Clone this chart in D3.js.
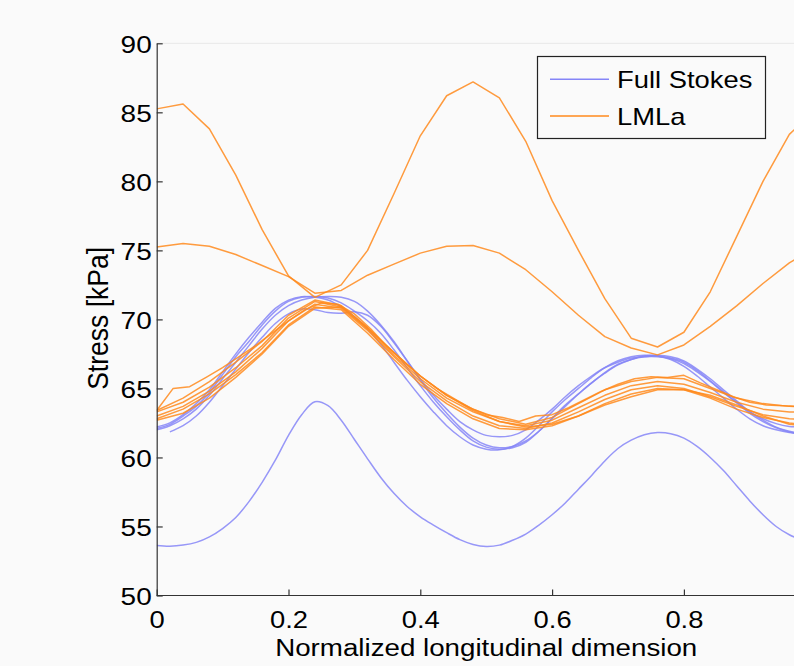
<!DOCTYPE html>
<html>
	<head>
		<title>Stress along the flowline</title>
		<style type="text/css">
			body{ margin:0; background:#fafafa; }
			#board{ width:794px; height:666px; overflow:hidden; }
			text{ font-family:"Liberation Sans", Arial, sans-serif; fill:#000; }
		</style>
	</head>
	<body>
		<div id="board"></div>

	<script type="text/javascript" src="https://cdn.jsdelivr.net/npm/d3@7"></script>
	<script>
		// sampling grids
		var xs02 = [0,0.02,0.04,0.06,0.08,0.1,0.12,0.14,0.16,0.18,0.2,0.22,0.24,0.26,0.28,0.3,0.32,0.34,0.36,0.38,
			0.4,0.42,0.44,0.46,0.48,0.5,0.52,0.54,0.56,0.58,0.6,0.62,0.64,0.66,0.68,0.7,0.72,0.74,0.76,0.78,
			0.8,0.82,0.84,0.86,0.88,0.9,0.92,0.94,0.96,0.98,1];
		var xs04 = [0,0.04,0.08,0.12,0.16,0.2,0.24,0.28,0.32,0.36,0.4,0.44,0.48,0.52,0.56,0.6,0.64,0.68,0.72,0.76,
			0.8,0.84,0.88,0.92,0.96,1];
		var xs025 = [0,0.025,0.05,0.075,0.1,0.125,0.15,0.175,0.2,0.225,0.25,0.275,0.3,0.325,0.35,0.375,0.4,0.425,0.45,0.475,
			0.5,0.525,0.55,0.575,0.6,0.625,0.65,0.675,0.7,0.725,0.75,0.775,0.8,0.825,0.85,0.875,0.9,0.925,0.95,0.975,1];

		// Full Stokes runs (on xs02)
		var fsA = [62.1,62.4,63.0,63.7,64.7,66.0,67.3,68.4,69.6,70.6,71.3,71.6,71.65,71.55,71.2,70.6,69.9,69.0,67.8,66.5,
			65.2,64.0,62.95,62.0,61.2,60.75,60.6,60.7,61.1,61.9,62.85,63.8,64.6,65.4,66.15,66.75,67.1,67.3,67.35,67.2,
			66.9,66.3,65.55,64.75,63.95,63.2,62.6,62.15,61.85,61.7,61.7];
		var fsB = [62.2,62.5,63.1,63.9,64.9,66.2,67.5,68.7,69.8,70.8,71.4,71.65,71.6,71.4,70.9,70.2,69.3,68.2,66.9,65.6,
			64.4,63.3,62.3,61.5,60.9,60.6,60.55,60.8,61.4,62.3,63.3,64.2,65.0,65.8,66.5,67.0,67.3,67.4,67.35,67.1,
			66.6,65.9,65.1,64.3,63.5,62.8,62.3,62.0,61.8,61.7,61.7];
		var fsC = [62.0,62.3,62.8,63.5,64.5,65.7,66.9,68.1,69.3,70.3,71.0,71.4,71.6,71.65,71.6,71.3,70.6,69.6,68.4,67.0,
			65.6,64.3,63.2,62.2,61.4,60.9,60.7,60.8,61.2,61.9,62.8,63.7,64.6,65.4,66.1,66.7,67.1,67.35,67.4,67.3,
			67.0,66.4,65.7,64.9,64.1,63.3,62.7,62.2,61.9,61.7,61.6];
		var fsD = [null,61.85,62.3,63.0,64.0,65.2,66.4,67.6,68.7,69.7,70.4,70.75,70.7,70.5,70.45,70.55,70.3,69.5,68.3,67.0,
			65.7,64.5,63.5,62.6,62.0,61.6,61.5,61.6,62.0,62.7,63.5,64.4,65.2,65.9,66.5,66.9,67.2,67.3,67.3,67.15,
			66.8,66.2,65.5,64.7,64.0,63.3,62.8,62.45,62.25,62.2,62.2];
		var fsE = [53.62,53.57,53.65,53.85,54.25,54.85,55.65,56.8,58.2,59.8,61.6,63.1,64.03,63.75,62.7,61.3,59.9,58.55,57.4,56.45,
			55.7,55.1,54.55,54.05,53.7,53.55,53.65,54.0,54.45,55.1,55.85,56.7,57.7,58.7,59.75,60.65,61.25,61.65,61.8,61.72,
			61.4,60.8,60.0,59.05,57.95,56.85,55.85,55.0,54.4,54.0,53.7];

		// LMLa runs (on xs04, one on xs025)
		var lmA = [85.25,85.6,83.8,80.45,76.5,73.15,71.6,72.5,75.0,79.1,83.3,86.2,87.2,86.05,82.9,78.6,75.0,71.5,68.64,68.0,
			69.07,72.0,76.0,80.0,83.4,85.2];
		var lmB = [75.25,75.5,75.3,74.7,73.9,73.1,71.9,72.1,73.2,74.0,74.8,75.3,75.35,74.8,73.6,72.0,70.3,68.75,67.93,67.43,
			68.15,69.5,70.98,72.6,74.1,75.2];
		var lmC = [63.4,64.3,65.5,66.9,68.4,70.3,71.4,71.0,69.4,67.6,65.9,64.5,63.5,62.8,62.4,62.9,63.9,64.9,65.5,65.8,
			65.7,65.0,64.3,63.9,63.7,63.6];
		var lmD = [63.3,64.0,65.1,66.5,68.1,70.1,71.3,70.9,69.3,67.4,65.7,64.3,63.3,62.6,62.3,62.7,63.6,64.5,65.2,65.5,
			65.3,64.7,64.0,63.5,63.3,63.3];
		var lmE = [63.0,63.7,64.8,66.2,67.9,69.9,71.1,70.8,69.2,67.3,65.5,64.1,63.0,62.3,62.1,62.5,63.3,64.2,64.9,65.2,
			65.0,64.4,63.7,63.1,62.8,62.7];
		var lmF = [62.8,63.5,64.6,66.0,67.6,69.6,70.9,70.7,69.0,67.1,65.3,63.9,62.8,62.1,62.0,62.3,63.0,63.9,64.6,65.0,
			64.9,64.3,63.5,62.9,62.5,62.3];
		var lmG = [62.7,63.2,64.3,65.8,67.5,69.5,70.8,70.9,69.4,67.6,65.9,64.5,63.4,62.6,62.2,62.4,63.0,63.8,64.4,64.9,
			64.9,64.5,63.8,63.0,62.4,62.2];
		var lmH = [63.4,65.0,65.13,65.8,66.5,67.3,68.1,69.0,69.9,70.7,71.2,71.1,70.4,69.3,68.0,66.9,65.9,65.0,64.3,63.6,
			63.1,62.9,62.6,63.0,63.1,63.6,64.2,64.8,65.3,65.7,65.85,65.8,65.95,65.4,64.9,64.4,64.0,63.8,63.75,63.7,63.6];

		var xTicks = [0,0.2,0.4,0.6,0.8];
		var yTicks = [50,55,60,65,70,75,80,85,90];
		var legendNames = ['Full Stokes','LMLa'];

		var blue = '#8585f7', orange = '#ff8a1c';
		var sx = 1.19; // glyphs in the original are a bit wide

		var mLeft = 156.7, mTop = 43.3, pw = 659, ph = 552.2;

		var svg = d3.select('#board').append('svg')
				.attr('width',794).attr('height',666);
		svg.append('rect').attr('width',794).attr('height',666).attr('fill','#fafafa');

		var x = d3.scaleLinear().domain([0,1]).range([mLeft, mLeft+pw]);
		var y = d3.scaleLinear().domain([50,90]).range([mTop+ph, mTop]);

		svg.append('clipPath').attr('id','clip')
			.append('rect').attr('x',mLeft).attr('y',mTop).attr('width',pw).attr('height',ph);

		var g = svg.append('g').attr('clip-path','url(#clip)');

		function series( xs, ys ){
			return xs.map(function(d,i){ return [d, ys[i]]; });
		}

		var smooth = d3.line()
			.defined(function(d){ return d[1] != null; })
			.x(function(d){ return x(d[0]); })
			.y(function(d){ return y(d[1]); })
			.curve(d3.curveCatmullRom);
		var straight = d3.line()
			.x(function(d){ return x(d[0]); })
			.y(function(d){ return y(d[1]); });

		var fsRuns = [fsA, fsB, fsC, fsD, fsE];
		g.selectAll('.fs')
			.data( fsRuns )
			.enter().append('path')
			.attr('class','fs')
			.attr('d',function(d){ return smooth( series(xs02, d) ); })
			.attr('fill','none')
			.attr('stroke',blue)
			.attr('stroke-opacity',0.85)
			.attr('stroke-width',1.5);

		var lmRuns = [ series(xs04,lmA), series(xs04,lmB), series(xs04,lmC), series(xs04,lmD),
			series(xs04,lmE), series(xs04,lmF), series(xs04,lmG), series(xs025,lmH) ];
		g.selectAll('.lm')
			.data( lmRuns )
			.enter().append('path')
			.attr('class','lm')
			.attr('d',function(d){ return straight(d); })
			.attr('fill','none')
			.attr('stroke',orange)
			.attr('stroke-opacity',0.85)
			.attr('stroke-width',1.5)
			.attr('stroke-linejoin','round');

		// faint top edge of the axes
		svg.append('line')
			.attr('x1',mLeft).attr('x2',794).attr('y1',mTop).attr('y2',mTop)
			.attr('stroke','#e8e8e8').attr('stroke-width',1);

		// axes, ticks pointing inward
		var yAxis = svg.append('g')
			.attr('transform','translate('+mLeft+',0)')
			.call( d3.axisLeft(y).tickValues(yTicks).tickSizeInner(-6).tickSizeOuter(0).tickPadding(0) );
		var xAxis = svg.append('g')
			.attr('transform','translate(0,'+(mTop+ph)+')')
			.call( d3.axisBottom(x).tickValues(xTicks).tickSizeInner(-6).tickSizeOuter(0)
				.tickFormat(d3.format('')) );
		xAxis.select('.domain').attr('d','M'+mLeft+',0H'+(mLeft+pw));

		[yAxis, xAxis].forEach(function(a){
			a.select('.domain').attr('stroke','#333').attr('stroke-width',1.2);
			a.selectAll('.tick line').attr('stroke','#333').attr('stroke-width',1.2);
		});

		yAxis.selectAll('.tick text')
			.attr('x',0).attr('dy',null).attr('y',0)
			.attr('text-anchor','end')
			.attr('dominant-baseline','central')
			.style('font-size','23.5px')
			.attr('transform','translate(-5,1) scale('+sx+',1)');
		xAxis.selectAll('.tick text')
			.attr('y',0).attr('dy',null)
			.attr('text-anchor','middle')
			.style('font-size','23px')
			.attr('transform','translate(0,32) scale('+sx+',1)');

		svg.append('text')
			.attr('text-anchor','middle')
			.style('font-size','23.3px')
			.attr('transform','translate('+(mLeft+pw/2)+',656) scale('+sx+',1)')
			.text('Normalized longitudinal dimension');

		svg.append('text')
			.attr('text-anchor','middle')
			.style('font-size','26.5px')
			.attr('transform','translate(108,'+(mTop+ph/2 - 1)+') scale(1.12,1) rotate(-90)')
			.text('Stress [kPa]');

		// legend
		var leg = svg.append('g');
		leg.append('rect')
			.attr('x',537.5).attr('y',56.5).attr('width',228).attr('height',82)
			.attr('fill','#fafafa').attr('stroke','#222').attr('stroke-width',1.2);
		var items = leg.selectAll('.item')
			.data( legendNames )
			.enter().append('g')
			.attr('class','item')
			.attr('transform',function(d,i){ return 'translate(0,'+(79.3 + i*36.7)+')'; });
		items.append('line')
			.attr('x1',550).attr('x2',609)
			.attr('stroke',function(d,i){ return i == 0 ? blue : orange; })
			.attr('stroke-width',1.5);
		items.append('text')
			.style('font-size','23px')
			.attr('transform','translate(617,8.5) scale('+sx+',1)')
			.text(function(d){ return d; });
	</script>
	</body>
</html>
